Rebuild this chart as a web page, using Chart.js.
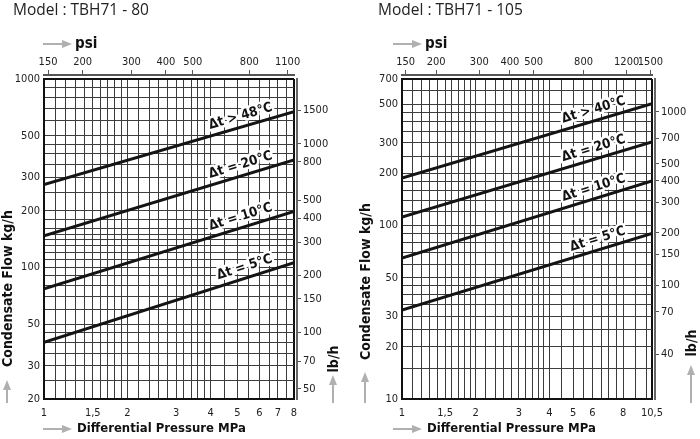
<!DOCTYPE html>
<html>
<head>
<meta charset="utf-8">
<script src="https://cdn.jsdelivr.net/npm/chart.js@4.4.1/dist/chart.umd.min.js"></script>
<style>
  html, body { margin: 0; padding: 0; background: #fff; }
  #wrap { position: relative; width: 700px; height: 439px; }
  .box { position: absolute; top: 0; width: 350px; height: 439px; }
</style>
</head>
<body>
<div id="wrap">
  <div class="box" style="left:0"><canvas id="c80" width="350" height="439"></canvas></div>
  <div class="box" style="left:350px"><canvas id="c105" width="350" height="439"></canvas></div>
</div>
<script>
// unit conversions for the secondary axes
const PSI_PER_MPA = 145.038;
const LB_PER_KG = 2.20462;

// ---- TBH71 - 80 ----
const pressure80 = [1, 8];
const flow80_48 = [275, 670];
const flow80_20 = [147, 372];
const flow80_10 = [77, 198];
const flow80_5 = [40, 106];
const names80 = ['Δt > 48°C', 'Δt = 20°C', 'Δt = 10°C', 'Δt = 5°C'];
const xTicks80 = [1, 1.5, 2, 3, 4, 5, 6, 7, 8];
const yTicks80 = [20, 30, 50, 100, 200, 300, 500, 1000];
const psiTicks80 = [150, 200, 300, 400, 500, 800, 1100];
const lbTicks80 = [50, 70, 100, 150, 200, 300, 400, 500, 800, 1000, 1500];
const xGrid80 = [1, 1.1, 1.2, 1.3, 1.4, 1.5, 1.6, 1.7, 1.8, 1.9, 2, 2.2, 2.4, 2.6, 2.8, 3, 3.2, 3.4, 3.6, 3.8, 4, 4.5, 5, 5.5, 6, 6.5, 7, 7.5, 8];
const yGrid80 = [20, 25, 30, 35, 40, 45, 50, 60, 70, 80, 90, 100, 110, 120, 130, 140, 150, 160, 180, 200, 250, 300, 350, 400, 450, 500, 600, 700, 800, 900, 1000];

// ---- TBH71 - 105 ----
const pressure105 = [1, 10.5];
const flow105_40 = [188, 505];
const flow105_20 = [112, 304];
const flow105_10 = [65, 181];
const flow105_5 = [32.6, 90];
const names105 = ['Δt > 40°C', 'Δt = 20°C', 'Δt = 10°C', 'Δt = 5°C'];
const xTicks105 = [1, 1.5, 2, 3, 4, 5, 6, 8, 10.5];
const yTicks105 = [10, 20, 30, 50, 100, 200, 300, 500, 700];
const psiTicks105 = [150, 200, 300, 400, 500, 800, 1200, 1500];
const lbTicks105 = [40, 70, 100, 150, 200, 300, 400, 500, 700, 1000];
const xGrid105 = [1, 1.1, 1.2, 1.3, 1.4, 1.5, 1.6, 1.7, 1.8, 1.9, 2, 2.2, 2.4, 2.6, 2.8, 3, 3.2, 3.4, 3.6, 3.8, 4, 4.5, 5, 5.5, 6, 6.5, 7, 7.5, 8, 9, 10, 10.5];
const yGrid105 = [10, 15, 20, 25, 30, 35, 40, 45, 50, 60, 70, 80, 90, 100, 120, 140, 160, 180, 200, 250, 300, 350, 400, 450, 500, 600, 700];

const TICK_FONT = { family: '"DejaVu Sans Condensed", "DejaVu Sans", sans-serif', size: 11 };
const BOLD = '"DejaVu Sans Condensed", "DejaVu Sans", sans-serif';

function fmt(v) {
  return String(v).replace('.', ',');
}

function drawArrow(ctx, x1, y1, x2, y2) {
  const ang = Math.atan2(y2 - y1, x2 - x1);
  const hl = 10, hw = 4;
  ctx.save();
  ctx.strokeStyle = '#b0b0b0';
  ctx.fillStyle = '#b0b0b0';
  ctx.lineWidth = 2;
  ctx.beginPath();
  ctx.moveTo(x1, y1);
  ctx.lineTo(x2 - Math.cos(ang) * hl, y2 - Math.sin(ang) * hl);
  ctx.stroke();
  ctx.translate(x2, y2);
  ctx.rotate(ang);
  ctx.beginPath();
  ctx.moveTo(0, 0);
  ctx.lineTo(-hl, -hw);
  ctx.lineTo(-hl, hw);
  ctx.closePath();
  ctx.fill();
  ctx.restore();
}

const extras = {
  id: 'extras',
  afterLayout(chart) {
    // the psi and lb/h axes sit a few pixels off the plot frame
    const s = chart.scales;
    s.y2.left += 3; s.y2.right += 3;
    s.x2.top -= 4; s.x2.bottom -= 4;
  },
  afterDatasetsDraw(chart, args, o) {
    const ctx = chart.ctx;
    const area = chart.chartArea;
    ctx.save();
    ctx.font = 'bold 13.5px ' + BOLD;
    chart.data.datasets.forEach((ds, i) => {
      const pts = chart.getDatasetMeta(i).data;
      const a = pts[0], b = pts[pts.length - 1];
      const ang = Math.atan2(b.y - a.y, b.x - a.x);
      const ex = area.right - o.labelGap;
      const t = (ex - a.x) / (b.x - a.x);
      const ey = a.y + t * (b.y - a.y);
      ctx.save();
      ctx.translate(ex, ey);
      ctx.rotate(ang);
      ctx.textAlign = 'right';
      ctx.textBaseline = 'alphabetic';
      ctx.lineJoin = 'round';
      ctx.lineWidth = 5;
      ctx.strokeStyle = '#fff';
      ctx.strokeText(ds.label, 0, -7);
      ctx.fillStyle = '#111';
      ctx.fillText(ds.label, 0, -7);
      ctx.restore();
    });
    ctx.restore();
  },
  afterDraw(chart, args, o) {
    const ctx = chart.ctx;
    ctx.save();
    ctx.fillStyle = '#222';
    ctx.textBaseline = 'middle';
    ctx.textAlign = 'left';
    ctx.font = '15.5px "Open Sans", sans-serif';
    ctx.fillText(o.title, o.titleX, 11);

    ctx.fillStyle = '#111';
    drawArrow(ctx, 43, 44, 72, 44);
    ctx.font = 'bold 15px ' + BOLD;
    ctx.fillText('psi', 75, 44);

    drawArrow(ctx, 43, 429, 72, 429);
    ctx.font = 'bold 13px ' + BOLD;
    ctx.fillText('Differential Pressure MPa', 77, 429);

    drawArrow(ctx, o.yArrowX, 403, o.yArrowX, o.yArrowTop);
    ctx.save();
    ctx.translate(o.yArrowX + 1, o.yTitleBottom);
    ctx.rotate(-Math.PI / 2);
    ctx.font = 'bold 14px ' + BOLD;
    ctx.fillText('Condensate Flow kg/h', 0, 0);
    ctx.restore();

    drawArrow(ctx, o.lbX, 403, o.lbX, o.lbArrowTop);
    ctx.save();
    ctx.translate(o.lbX + 1, o.lbY);
    ctx.rotate(-Math.PI / 2);
    ctx.textAlign = 'center';
    ctx.font = 'bold 14px ' + BOLD;
    ctx.fillText('lb/h', 0, 0);
    ctx.restore();
    ctx.restore();
  }
};

function makeChart(id, p) {
  const [xmin, xmax] = [p.pressure[0], p.pressure[p.pressure.length - 1]];
  const [ymin, ymax] = [p.yGrid[0], p.yGrid[p.yGrid.length - 1]];
  const edge = (c, lo, hi) => (c.tick && (c.tick.value === lo || c.tick.value === hi)) ? 2 : 1;
  const edgeColor = (c, lo, hi) => (c.tick && (c.tick.value === lo || c.tick.value === hi)) ? '#111' : '#3c3c3c';

  return new Chart(document.getElementById(id), {
    type: 'line',
    data: {
      datasets: p.series.map((vals, i) => ({
        label: p.names[i],
        data: p.pressure.map((x, k) => ({ x: x, y: vals[k] })),
        borderColor: '#141414',
        borderWidth: 3,
        pointRadius: 0,
        fill: false,
        tension: 0
      }))
    },
    options: {
      responsive: false,
      animation: false,
      layout: { padding: 0 },
      plugins: {
        legend: { display: false },
        tooltip: { enabled: false },
        extras: p.extras
      },
      scales: {
        x: {
          type: 'logarithmic',
          position: 'bottom',
          min: xmin, max: xmax,
          afterBuildTicks: s => { s.ticks = p.xGrid.map(v => ({ value: v })); },
          afterFit: s => { s.height = 40; },
          ticks: {
            autoSkip: false, maxRotation: 0, padding: 8, color: '#222', font: TICK_FONT,
            callback: v => p.xTicks.includes(v) ? fmt(v) : ''
          },
          grid: {
            drawTicks: false,
            color: c => edgeColor(c, xmin, xmax),
            lineWidth: c => edge(c, xmin, xmax)
          },
          border: { display: true, color: '#111', width: 2 }
        },
        x2: {
          type: 'logarithmic',
          position: 'top',
          min: xmin * PSI_PER_MPA, max: xmax * PSI_PER_MPA,
          afterBuildTicks: s => { s.ticks = p.psiTicks.map(v => ({ value: v })); },
          afterFit: s => { s.height = 79; },
          ticks: {
            autoSkip: false, maxRotation: 0, padding: 1, color: '#222', font: TICK_FONT,
            callback: v => String(v)
          },
          grid: { drawOnChartArea: false, drawTicks: true, tickLength: 5, color: '#555', lineWidth: 1 },
          border: { display: true, color: '#555', width: 2 }
        },
        y: {
          type: 'logarithmic',
          position: 'left',
          min: ymin, max: ymax,
          afterBuildTicks: s => { s.ticks = p.yGrid.map(v => ({ value: v })); },
          afterFit: s => { s.width = p.leftW; },
          ticks: {
            autoSkip: false, padding: 4, color: '#222', font: TICK_FONT,
            callback: v => p.yTicks.includes(v) ? String(v) : ''
          },
          grid: {
            drawTicks: false,
            color: c => edgeColor(c, ymin, ymax),
            lineWidth: c => edge(c, ymin, ymax)
          },
          border: { display: true, color: '#111', width: 2 }
        },
        y2: {
          type: 'logarithmic',
          position: 'right',
          min: ymin * LB_PER_KG, max: ymax * LB_PER_KG,
          afterBuildTicks: s => { s.ticks = p.lbTicks.map(v => ({ value: v })); },
          afterFit: s => { s.width = p.rightW; },
          ticks: {
            autoSkip: false, padding: 2, color: '#222', font: TICK_FONT,
            callback: v => String(v)
          },
          grid: { drawOnChartArea: false, drawTicks: true, tickLength: 4, color: '#555', lineWidth: 1 },
          border: { display: true, color: '#666', width: 2 }
        }
      }
    },
    plugins: [extras]
  });
}

makeChart('c80', {
  pressure: pressure80,
  series: [flow80_48, flow80_20, flow80_10, flow80_5],
  names: names80,
  xTicks: xTicks80, yTicks: yTicks80, psiTicks: psiTicks80, lbTicks: lbTicks80,
  xGrid: xGrid80, yGrid: yGrid80,
  leftW: 44, rightW: 56,
  extras: {
    title: 'Model : TBH71 - 80', titleX: 13, labelGap: 19,
    yArrowX: 7, yArrowTop: 380, yTitleBottom: 367,
    lbX: 333, lbArrowTop: 375, lbY: 359
  }
});

makeChart('c105', {
  pressure: pressure105,
  series: [flow105_40, flow105_20, flow105_10, flow105_5],
  names: names105,
  xTicks: xTicks105, yTicks: yTicks105, psiTicks: psiTicks105, lbTicks: lbTicks105,
  xGrid: xGrid105, yGrid: yGrid105,
  leftW: 52, rightW: 48,
  extras: {
    title: 'Model : TBH71 - 105', titleX: 28, labelGap: 24,
    yArrowX: 15, yArrowTop: 372, yTitleBottom: 360,
    lbX: 341, lbArrowTop: 365, lbY: 343
  }
});
</script>
</body>
</html>
